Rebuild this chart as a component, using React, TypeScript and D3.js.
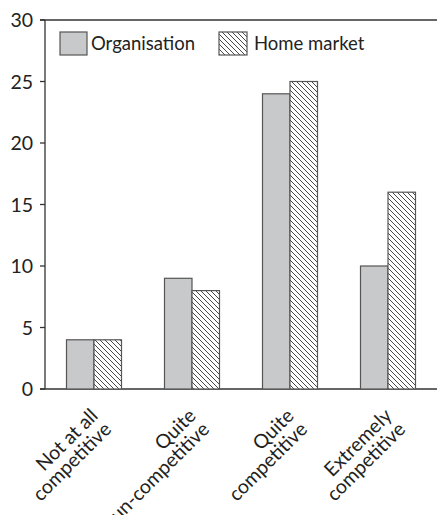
import React from "react";
import * as d3 from "d3";

const categories = [["Not at all", "competitive"], ["Quite", "un-competitive"], ["Quite", "competitive"], ["Extremely", "competitive"]];
const seriesNames = ["Organisation", "Home market"];
const organisation = [4, 9, 24, 10];
const homeMarket = [4, 8, 25, 16];
const yTicks = [0, 5, 10, 15, 20, 25, 30];

const W = 437, H = 515;
const left = 45, right = 437, top = 20, bottom = 389;
const FONT = "Lato, 'Open Sans', sans-serif";

export default function App() {
  const x = d3.scaleBand<number>().domain(d3.range(categories.length)).range([left, right]).paddingInner(0).paddingOuter(0);
  const y = d3.scaleLinear().domain([0, 30]).range([bottom, top]);
  const bw = 27.5;
  const values = [organisation, homeMarket];
  return (
    <svg width={W} height={H} style={{ position: "absolute", left: 0, top: 0, background: "#fff" }}>
      <defs>
        <pattern id="hatch" patternUnits="userSpaceOnUse" width={5} height={5}>
          <rect width={5} height={5} fill="#fff" />
          <path d="M0,0 L5,5 M-1,4 L1,6 M4,-1 L6,1" stroke="#333" strokeWidth={0.9} />
        </pattern>
      </defs>
      <text x={101} y={-4} fontFamily={FONT} fontWeight="bold" fontSize={22} fill="#222">Rating</text>
      {/* frame */}
      <line x1={40} x2={right} y1={top} y2={top} stroke="#333" strokeWidth={1.3} />
      <line x1={left} x2={left} y1={top} y2={bottom} stroke="#333" strokeWidth={1.3} />
      <line x1={40} x2={right} y1={bottom} y2={bottom} stroke="#333" strokeWidth={1.3} />
      {yTicks.map((t) => (
        <g key={t}>
          <line x1={40} x2={left} y1={y(t)} y2={y(t)} stroke="#333" strokeWidth={1.3} />
          <text x={33} y={y(t)} dy="0.36em" textAnchor="end" fontFamily={FONT} fontSize={19.5} fill="#222">{t}</text>
        </g>
      ))}
      {categories.map((c, i) => {
        const cx = (x(i) as number) + x.bandwidth() / 2;
        return (
          <g key={i}>
            {values.map((vals, s) => (
              <rect key={s} x={cx - bw + s * bw} y={y(vals[i])} width={bw} height={bottom - y(vals[i])}
                fill={s === 0 ? "#c8c9cb" : "url(#hatch)"} stroke="#555" strokeWidth={1.2} />
            ))}
            <g transform={`translate(${cx + 5},${417}) rotate(-45)`}>
              <text textAnchor="end" fontFamily={FONT} fontSize={19.5} fill="#222">
                <tspan x={0} y={0}>{c[0]}</tspan>
                <tspan x={0} y={19}>{c[1]}</tspan>
              </text>
            </g>
          </g>
        );
      })}
      {/* legend */}
      <rect x={60} y={32} width={27} height={23} fill="#c8c9cb" stroke="#555" strokeWidth={1.2} />
      <text x={91} y={50} fontFamily={FONT} fontSize={18.5} fill="#222">{seriesNames[0]}</text>
      <rect x={219} y={32} width={28} height={23} fill="url(#hatch)" stroke="#555" strokeWidth={1.2} />
      <text x={254} y={50} fontFamily={FONT} fontSize={18.5} fill="#222">{seriesNames[1]}</text>
    </svg>
  );
}
